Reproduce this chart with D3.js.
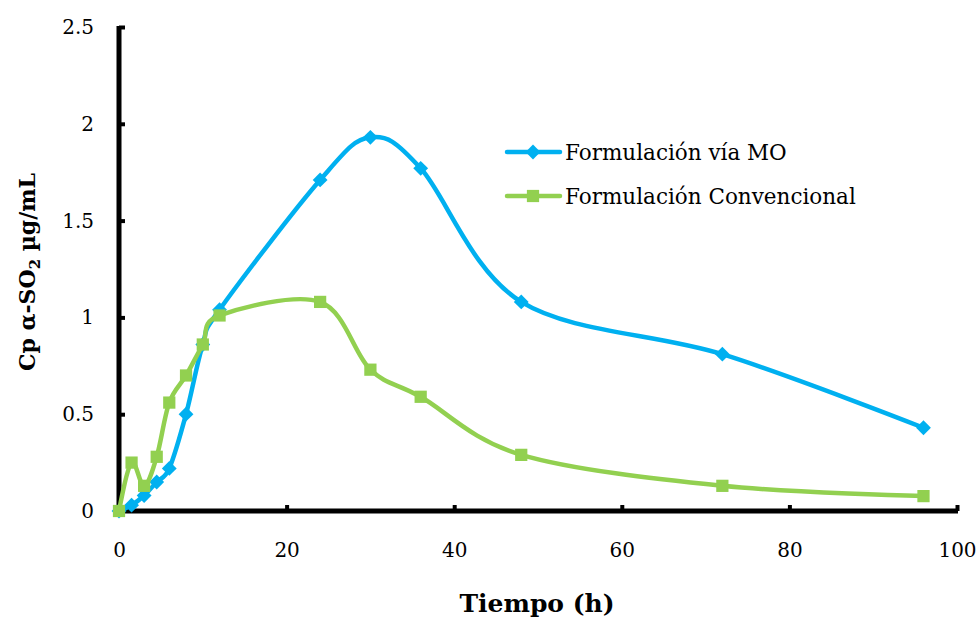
<!DOCTYPE html>
<html><head><meta charset="utf-8">
<script src="https://cdn.jsdelivr.net/npm/d3@7"></script>
<style>body{margin:0;background:#fff;} svg{display:block;}</style>
</head><body>
<svg id="c" width="979" height="621"></svg>
<script>
const hours = [0, 1.5, 3, 4.5, 6, 8, 10, 12, 24, 30, 36, 48, 72, 96];
const seriesMO = [0, 0.03, 0.08, 0.15, 0.22, 0.50, 0.86, 1.04, 1.71, 1.93, 1.77, 1.08, 0.81, 0.43];
const seriesConv = [0, 0.25, 0.13, 0.28, 0.56, 0.70, 0.86, 1.01, 1.08, 0.73, 0.59, 0.29, 0.13, 0.077];
const xTicks = [0, 20, 40, 60, 80, 100];
const yTicks = [0, 0.5, 1, 1.5, 2, 2.5];
const seriesNames = ["Formulación vía MO", "Formulación Convencional"];

const svg = d3.select("#c");
const font = "'DejaVu Serif', 'Liberation Serif', serif";
const x = d3.scaleLinear().domain([0, 100]).range([119, 957]);
const y = d3.scaleLinear().domain([0, 2.5]).range([511, 27]);

// axes
const xAxis = d3.axisBottom(x).tickValues(xTicks).tickSize(-6).tickPadding(32).tickFormat(d3.format("d"));
const yAxis = d3.axisLeft(y).tickValues(yTicks).tickSize(-6).tickPadding(25).tickFormat(d => String(d));

const gx = svg.append("g").attr("transform", "translate(0,511)").call(xAxis);
const gy = svg.append("g").attr("transform", "translate(119,0)").call(yAxis);
[gx, gy].forEach(g => {
  g.select(".domain").attr("stroke", "#000").attr("stroke-width", 5);
  g.selectAll(".tick line").attr("stroke", "#000").attr("stroke-width", 4);
  g.selectAll(".tick text").attr("font-family", font).attr("font-size", 20).attr("fill", "#000");
});
gx.select(".domain").attr("d", `M${x(0)},0H${x(100)+1}`);
gy.select(".domain").attr("d", `M0,${y(2.5)-1}V${y(0)+2}`);
gx.selectAll(".tick text").attr("dy", "0.71em");

// axis titles
svg.append("text").attr("x", 537).attr("y", 612).attr("text-anchor", "middle")
  .attr("font-family", font).attr("font-weight", "bold").attr("font-size", 25).text("Tiempo (h)");
const yt = svg.append("text").attr("transform", "translate(35,272) rotate(-90)").attr("text-anchor", "middle")
  .attr("font-family", font).attr("font-weight", "bold").attr("font-size", 22);
yt.append("tspan").text("Cp α-SO");
yt.append("tspan").attr("font-size", 15).attr("dy", 5).text("2");
yt.append("tspan").attr("dy", -5).text(" µg/mL");

const line = d3.line().x(d => x(d[0])).y(d => y(d[1])).curve(d3.curveCatmullRom.alpha(0));
const colors = ["#00B0F0", "#92D050"];
const data = [seriesMO, seriesConv].map(s => hours.map((h, i) => [h, s[i]]));
const markerPath = k => k === 0 ? d3.symbol(d3.symbolSquare, 110)() : d3.symbol(d3.symbolSquare, 150)();

data.forEach((pts, k) => {
  svg.append("path").datum(pts).attr("d", line).attr("fill", "none")
    .attr("stroke", colors[k]).attr("stroke-width", 4.5);
  svg.append("g").selectAll("path").data(pts).join("path")
    .attr("d", markerPath(k))
    .attr("transform", d => `translate(${x(d[0])},${y(d[1])})` + (k === 0 ? " rotate(45)" : ""))
    .attr("fill", colors[k]);
});

// legend
const legY = [152, 196];
seriesNames.forEach((name, k) => {
  const g = svg.append("g").attr("transform", `translate(0,${legY[k]})`);
  g.append("line").attr("x1", 507).attr("x2", 560).attr("y1", 0).attr("y2", 0)
    .attr("stroke", colors[k]).attr("stroke-width", 4.5).attr("stroke-linecap", "round");
  g.append("path").attr("transform", `translate(533,0)` + (k === 0 ? " rotate(45)" : ""))
    .attr("d", markerPath(k)).attr("fill", colors[k]);
  g.append("text").attr("x", 565).attr("y", 8).attr("font-family", font).attr("font-size", 21.5)
    .attr("fill", "#000").text(name);
});
</script>
</body></html>
